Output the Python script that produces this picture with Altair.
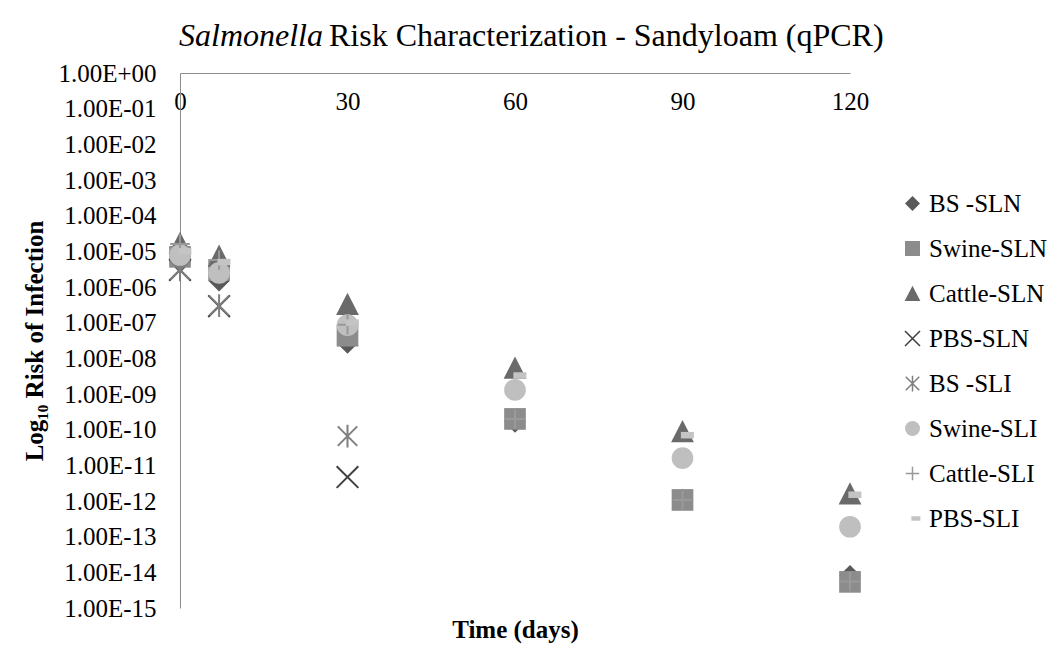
import altair as alt
import pandas as pd

# ---- data ----
days = [0, 7, 30, 60, 90, 120]
days_short = [0, 7, 30]
series_names = ["BS -SLN", "Swine-SLN", "Cattle-SLN", "PBS-SLN",
                "BS -SLI", "Swine-SLI", "Cattle-SLI", "PBS-SLI"]
bs_sln = [5.0e-6, 1.5e-6, 2.7e-8, 1.65e-10, 1.1e-12, 8.0e-15]
swine_sln = [7.0e-6, 3.0e-6, 4.3e-8, 2.0e-10, 1.07e-12, 5.4e-15]
cattle_sln = [1.7e-5, 7.4e-6, 3.3e-7, 5.4e-9, 9.0e-11, 1.6e-12]
pbs_sln = [3.0e-6, 2.9e-7, 4.7e-12]
bs_sli = [3.0e-6, 3.0e-7, 6.6e-11]
swine_sli = [7.9e-6, 2.5e-6, 8.5e-8, 1.3e-9, 1.6e-11, 1.9e-13]
cattle_sli = [1.6e-5, 5.7e-6, 8.7e-8, 2.0e-10, 1.07e-12, 5.5e-15]
pbs_sli = [1.0e-5, 5.0e-6, 1.0e-7, 3.3e-9, 7.0e-11, 1.5e-12]

x_ticks = [0, 30, 60, 90, 120]
y_ticks = [1e0, 1e-1, 1e-2, 1e-3, 1e-4, 1e-5, 1e-6, 1e-7, 1e-8,
           1e-9, 1e-10, 1e-11, 1e-12, 1e-13, 1e-14, 1e-15]

title_italic = "Salmonella"
title_rest = "Risk Characterization - Sandyloam (qPCR)"

# ---- styles ----
shapes = ["diamond", "square", "M0,-1.05L1.05,1L-1.05,1Z",
          "M-1,-1L1,1M-1,1L1,-1",
          "M-0.9,-0.9L0.9,0.9M-0.9,0.9L0.9,-0.9M0,-1.05L0,1.05",
          "circle", "M-0.9,0L0.9,0M0,-0.9L0,0.9",
          "M-0.15,-0.3L1.05,-0.3L1.05,0.3L-0.15,0.3Z"]
fills = ["#595959", "#8c8c8c", "#6a6a6a", "#404040",
         "#7f7f7f", "#bfbfbf", "#999999", "#c4c4c4"]
strokes = ["transparent", "transparent", "transparent", "#404040",
           "#7f7f7f", "transparent", "#999999", "transparent"]

FONT = "Liberation Serif"
W, H = 670, 535

rows = []
for name, xs, vals in [
    ("BS -SLN", days, bs_sln), ("Swine-SLN", days, swine_sln),
    ("Cattle-SLN", days, cattle_sln), ("PBS-SLN", days_short, pbs_sln),
    ("BS -SLI", days_short, bs_sli), ("Swine-SLI", days, swine_sli),
    ("Cattle-SLI", days, cattle_sli), ("PBS-SLI", days, pbs_sli)]:
    for d, v in zip(xs, vals):
        rows.append({"series": name, "day": d, "risk": v})
df = pd.DataFrame(rows)

legend = alt.Legend(
    title=None, orient="none", legendX=720, legendY=118,
    labelFont=FONT, labelFontSize=25, labelColor="#000000",
    labelOffset=4, symbolSize=225, symbolStrokeWidth=1.5,
    rowPadding=19, padding=0, labelLimit=300,
)

label_expr = ("'1.00E' + (round(log(datum.value)/LN10) >= 0 ? '+' : '-') + "
              "(abs(round(log(datum.value)/LN10)) < 10 ? '0' : '') + "
              "abs(round(log(datum.value)/LN10))")

points = alt.Chart(df).mark_point(filled=True, strokeWidth=2, opacity=1).encode(
    x=alt.X("day:Q",
            scale=alt.Scale(domain=[0, 120], nice=False, zero=False),
            axis=alt.Axis(values=x_ticks, orient="bottom", offset=-H,
                          ticks=False, grid=False, labelFlush=False,
                          labelPadding=16, labelFont=FONT, labelFontSize=25,
                          labelColor="#000000", domainColor="#8c8c8c",
                          title="Time (days)", titleFont=FONT,
                          titleFontSize=25, titleFontWeight="bold",
                          titleColor="#000000", titleY=H + 29,
                          titleBaseline="alphabetic")),
    y=alt.Y("risk:Q",
            scale=alt.Scale(type="log", domain=[1e-15, 1], nice=False),
            axis=alt.Axis(values=y_ticks, labelExpr=label_expr, ticks=False,
                          grid=False, labelPadding=24, labelFont=FONT,
                          labelFontSize=25, labelColor="#000000",
                          domainColor="#8c8c8c",
                          title="Log\u2081\u2080 Risk of Infection",
                          titleFont=FONT, titleFontSize=25,
                          titleFontWeight="bold", titleColor="#000000",
                          titlePadding=10)),
    shape=alt.Shape("series:N", scale=alt.Scale(domain=series_names, range=shapes),
                    legend=legend),
    fill=alt.Fill("series:N", scale=alt.Scale(domain=series_names, range=fills),
                  legend=legend),
    stroke=alt.Stroke("series:N", scale=alt.Scale(domain=series_names, range=strokes),
                      legend=legend),
    size=alt.value(470),
)

t1 = alt.Chart(pd.DataFrame({"t": [title_italic]})).mark_text(
    font=FONT, fontSize=32, fontStyle="italic", align="right",
    baseline="alphabetic", color="#000000"
).encode(text="t:N", x=alt.value(143), y=alt.value(-27))

t2 = alt.Chart(pd.DataFrame({"t": [title_rest]})).mark_text(
    font=FONT, fontSize=32, align="left",
    baseline="alphabetic", color="#000000"
).encode(text="t:N", x=alt.value(149), y=alt.value(-27))

chart = alt.layer(points, t1, t2).properties(
    width=W, height=H,
    autosize=alt.AutoSizeParams(type="none"),
    padding={"left": 180, "top": 73, "right": 1060 - 180 - W, "bottom": 647 - 73 - H},
    background="white",
).configure_view(stroke=None)

chart.save("out.html", embed_options={"renderer": "svg", "actions": False})
